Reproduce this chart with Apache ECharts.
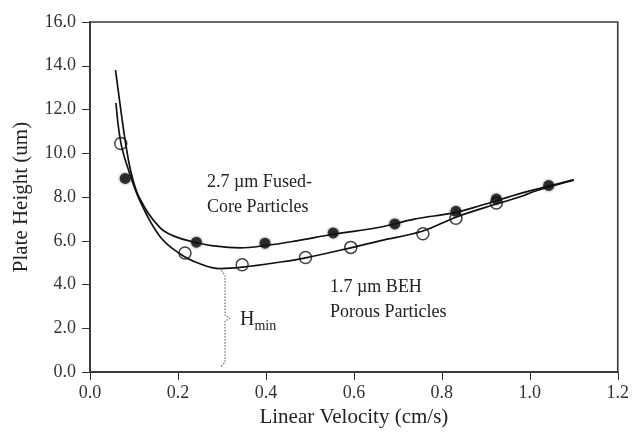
<!DOCTYPE html>
<html>
<head>
<meta charset="utf-8">
<script src="https://cdn.jsdelivr.net/npm/echarts@6/dist/echarts.min.js"></script>
<style>
  html, body { margin: 0; padding: 0; background: #fff; }
  #main { width: 632px; height: 433px; }
</style>
</head>
<body>
<div id="main"></div>
<script>
// tick labels
var xTicks = ['0.0', '0.2', '0.4', '0.6', '0.8', '1.0', '1.2'];
var yTicks = ['0.0', '2.0', '4.0', '6.0', '8.0', '10.0', '12.0', '14.0', '16.0'];

// measured points, [velocity, plate height]
var fusedPoints = [[0.080, 8.85], [0.242, 5.94], [0.398, 5.89], [0.553, 6.36],
  [0.693, 6.77], [0.832, 7.35], [0.924, 7.91], [1.043, 8.53]];
var behPoints = [[0.070, 10.45], [0.216, 5.44], [0.346, 4.91], [0.490, 5.24],
  [0.593, 5.70], [0.757, 6.32], [0.832, 7.03], [0.924, 7.73]];

// fitted curves
var fusedCurve = [[0.058, 13.8], [0.072, 11.7], [0.083, 10.2], [0.095, 9.0],
  [0.114, 7.9], [0.159, 6.6], [0.197, 6.17], [0.242, 5.92], [0.28, 5.77],
  [0.341, 5.68], [0.398, 5.78], [0.47, 6.0], [0.553, 6.3], [0.659, 6.62],
  [0.735, 6.98], [0.832, 7.3], [0.886, 7.6], [0.985, 8.2], [1.043, 8.5], [1.10, 8.8]];
var behCurve = [[0.059, 12.3], [0.070, 10.5], [0.087, 9.27], [0.114, 7.8],
  [0.159, 6.2], [0.205, 5.4], [0.25, 4.95], [0.295, 4.73], [0.348, 4.8],
  [0.43, 5.02], [0.49, 5.22], [0.593, 5.68], [0.659, 6.0], [0.757, 6.45],
  [0.832, 7.08], [0.924, 7.68], [0.985, 8.06], [1.015, 8.29], [1.10, 8.77]];

// dotted brace marking H min
var hminBrace = [[0.299, 4.65], [0.307, 4.36], [0.307, 2.62], [0.318, 2.45],
  [0.307, 2.30], [0.307, 0.5], [0.295, 0.22]];

var chart = echarts.init(document.getElementById('main'));
var serif = '"Liberation Serif", "Times New Roman", serif';
var axisCol = '#333';

var option = {
  animation: false,
  grid: { left: 90, right: 14, top: 22, bottom: 59, show: true,
    borderColor: '#3a3a3a', borderWidth: 1.6 },
  xAxis: {
    type: 'value', min: 0, max: 1.2, interval: 0.2,
    name: 'Linear Velocity (cm/s)', nameLocation: 'middle', nameGap: 30,
    nameTextStyle: { fontFamily: serif, fontSize: 21, color: '#222' },
    axisLine: { show: true, lineStyle: { color: axisCol, width: 1.6 } },
    axisTick: { show: true, length: 8, lineStyle: { color: axisCol } },
    axisLabel: { fontFamily: serif, fontSize: 18, color: axisCol, margin: 12,
      formatter: function (v) { return xTicks[Math.round(v / 0.2)]; } },
    splitLine: { show: false }
  },
  yAxis: {
    type: 'value', min: 0, max: 16, interval: 2,
    name: 'Plate Height (um)', nameLocation: 'middle', nameGap: 58,
    nameTextStyle: { fontFamily: serif, fontSize: 21, color: '#222' },
    axisLine: { show: true, lineStyle: { color: axisCol, width: 1.6 } },
    axisTick: { show: true, length: 8, lineStyle: { color: axisCol } },
    axisLabel: { fontFamily: serif, fontSize: 18, color: axisCol, margin: 14,
      formatter: function (v) { return yTicks[Math.round(v / 2)]; } },
    splitLine: { show: false }
  },
  series: [
    { type: 'line', data: fusedCurve, smooth: 0.4, symbol: 'none',
      lineStyle: { color: '#111', width: 1.7 } },
    { type: 'line', data: behCurve, smooth: 0.4, symbol: 'none',
      lineStyle: { color: '#111', width: 1.7 } },
    { type: 'line', data: hminBrace, smooth: 0.3, symbol: 'none',
      lineStyle: { color: '#666', width: 1.2, type: [1.5, 1.5] } },
    { type: 'scatter', data: behPoints, symbolSize: 12,
      itemStyle: { color: '#fff', borderColor: '#111', borderWidth: 1.5 } },
    { type: 'scatter', data: fusedPoints, symbolSize: 11,
      itemStyle: { color: '#111', shadowBlur: 3, shadowColor: 'rgba(0,0,0,0.6)' } }
  ],
  graphic: [
    { type: 'text', left: 207, top: 170,
      style: { text: '2.7 µm Fused-\nCore Particles', font: '18px ' + serif,
        fill: '#222', lineHeight: 25 } },
    { type: 'text', left: 330, top: 275,
      style: { text: '1.7 µm BEH\nPorous Particles', font: '18px ' + serif,
        fill: '#222', lineHeight: 25 } },
    { type: 'text', left: 240, top: 310,
      style: { text: '{h|H}{s|min}', rich: {
        h: { fontFamily: serif, fontSize: 20, fill: '#222', verticalAlign: 'bottom' },
        s: { fontFamily: serif, fontSize: 14, fill: '#222', padding: [0, 0, -3, 0], verticalAlign: 'bottom' }
      } } }
  ]
};
chart.setOption(option);
</script>
</body>
</html>
